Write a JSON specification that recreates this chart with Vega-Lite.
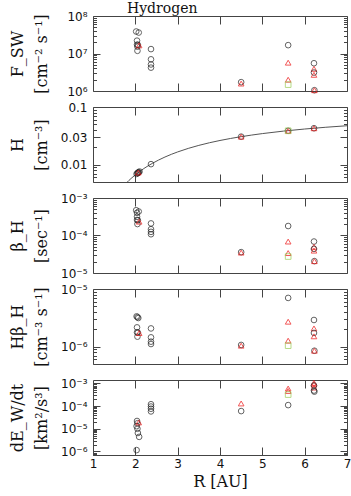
{
  "$schema": "https://vega.github.io/schema/vega-lite/v6.json",
  "padding": {"left": 8, "top": 1, "right": 0, "bottom": 0},
  "spacing": 16,
  "bounds": "flush",
  "config": {
    "view": {"stroke": "#444", "strokeWidth": 1},
    "axis": {"domain": false, "grid": false, "tickColor": "#444", "tickWidth": 1, "labelFont": "DejaVu Sans", "labelFontSize": 12, "labelColor": "#111", "titleFont": "DejaVu Serif", "titleFontSize": 16, "titleFontWeight": "normal", "titleColor": "#111", "labelFlush": false, "labelOverlap": false},
    "point": {"filled": false, "size": 32, "strokeWidth": 1}
  },
  "datasets": {
    "f": [
      {"R": 2.02, "v": 3.86e7, "t": "c"}, {"R": 2.08, "v": 3.62e7, "t": "c"}, {"R": 2.04, "v": 2.2e7, "t": "c"},
      {"R": 2.04, "v": 1.72e7, "t": "c"}, {"R": 2.06, "v": 1.7e7, "t": "c"}, {"R": 2.05, "v": 1.52e7, "t": "c"},
      {"R": 2.05, "v": 1.18e7, "t": "c"}, {"R": 2.09, "v": 1.65e7, "t": "t"},
      {"R": 2.37, "v": 1.31e7, "t": "c"}, {"R": 2.37, "v": 7.0e6, "t": "c"}, {"R": 2.37, "v": 5.1e6, "t": "c"}, {"R": 2.37, "v": 4.2e6, "t": "c"},
      {"R": 4.5, "v": 1.72e6, "t": "c"}, {"R": 4.5, "v": 1.58e6, "t": "t"},
      {"R": 5.61, "v": 1.67e7, "t": "c"}, {"R": 5.61, "v": 5.7e6, "t": "t"}, {"R": 5.61, "v": 2.0e6, "t": "t"}, {"R": 5.61, "v": 1.48e6, "t": "s"},
      {"R": 6.22, "v": 5.5e6, "t": "c"}, {"R": 6.22, "v": 3.9e6, "t": "t"}, {"R": 6.22, "v": 3.1e6, "t": "c"}, {"R": 6.22, "v": 2.7e6, "t": "t"},
      {"R": 6.23, "v": 1.05e6, "t": "c"}, {"R": 6.23, "v": 1.05e6, "t": "t"}
    ],
    "h": [
      {"R": 2.03, "v": 0.0069, "t": "c"}, {"R": 2.05, "v": 0.0071, "t": "c"}, {"R": 2.06, "v": 0.0072, "t": "c"},
      {"R": 2.07, "v": 0.0073, "t": "c"}, {"R": 2.08, "v": 0.0074, "t": "c"}, {"R": 2.1, "v": 0.0076, "t": "c"},
      {"R": 2.07, "v": 0.0073, "t": "t"},
      {"R": 2.37, "v": 0.0102, "t": "c"},
      {"R": 4.5, "v": 0.0306, "t": "c"}, {"R": 4.5, "v": 0.0306, "t": "t"},
      {"R": 5.61, "v": 0.0387, "t": "c"}, {"R": 5.61, "v": 0.0387, "t": "t"}, {"R": 5.61, "v": 0.0387, "t": "s"},
      {"R": 6.22, "v": 0.0428, "t": "c"}, {"R": 6.22, "v": 0.0428, "t": "t"}
    ],
    "cv": [
      {"R": 1.78, "v": 0.00474}, {"R": 1.85, "v": 0.00533}, {"R": 1.9, "v": 0.00576}, {"R": 2.0, "v": 0.00665},
      {"R": 2.1, "v": 0.00759}, {"R": 2.2, "v": 0.00855}, {"R": 2.4, "v": 0.01051}, {"R": 2.7, "v": 0.01356},
      {"R": 3.0, "v": 0.01662}, {"R": 3.5, "v": 0.02158}, {"R": 4.0, "v": 0.02626}, {"R": 4.5, "v": 0.03058},
      {"R": 5.0, "v": 0.03455}, {"R": 5.5, "v": 0.03819}, {"R": 6.0, "v": 0.04149}, {"R": 6.5, "v": 0.04452},
      {"R": 7.0, "v": 0.04729}
    ],
    "b": [
      {"R": 2.02, "v": 4.72e-4, "t": "c"}, {"R": 2.08, "v": 4.36e-4, "t": "c"}, {"R": 2.04, "v": 4.03e-4, "t": "c"},
      {"R": 2.04, "v": 3.16e-4, "t": "c"}, {"R": 2.04, "v": 2.6e-4, "t": "c"}, {"R": 2.06, "v": 2.55e-4, "t": "c"},
      {"R": 2.05, "v": 2.02e-4, "t": "c"}, {"R": 2.09, "v": 2.34e-4, "t": "t"},
      {"R": 2.37, "v": 2.1e-4, "t": "c"}, {"R": 2.37, "v": 1.47e-4, "t": "c"}, {"R": 2.37, "v": 1.25e-4, "t": "c"}, {"R": 2.37, "v": 1.08e-4, "t": "c"},
      {"R": 4.5, "v": 3.6e-5, "t": "c"}, {"R": 4.5, "v": 3.5e-5, "t": "t"},
      {"R": 5.61, "v": 1.79e-4, "t": "c"}, {"R": 5.61, "v": 6.9e-5, "t": "t"}, {"R": 5.61, "v": 3.4e-5, "t": "t"}, {"R": 5.61, "v": 2.75e-5, "t": "s"},
      {"R": 6.22, "v": 6.9e-5, "t": "c"}, {"R": 6.22, "v": 5.0e-5, "t": "t"}, {"R": 6.22, "v": 4.4e-5, "t": "c"}, {"R": 6.22, "v": 3.95e-5, "t": "t"},
      {"R": 6.23, "v": 2.07e-5, "t": "c"}, {"R": 6.23, "v": 2.07e-5, "t": "t"}
    ],
    "hb": [
      {"R": 2.03, "v": 3.35e-6, "t": "c"}, {"R": 2.07, "v": 3.14e-6, "t": "c"}, {"R": 2.05, "v": 3.25e-6, "t": "c"},
      {"R": 2.04, "v": 2.16e-6, "t": "c"}, {"R": 2.04, "v": 1.77e-6, "t": "c"}, {"R": 2.06, "v": 1.75e-6, "t": "c"},
      {"R": 2.05, "v": 1.49e-6, "t": "c"}, {"R": 2.09, "v": 1.72e-6, "t": "t"},
      {"R": 2.37, "v": 2.07e-6, "t": "c"}, {"R": 2.37, "v": 1.45e-6, "t": "c"}, {"R": 2.37, "v": 1.22e-6, "t": "c"}, {"R": 2.37, "v": 1.11e-6, "t": "c"},
      {"R": 4.5, "v": 1.07e-6, "t": "c"}, {"R": 4.5, "v": 1.04e-6, "t": "t"},
      {"R": 5.61, "v": 7.0e-6, "t": "c"}, {"R": 5.61, "v": 2.71e-6, "t": "t"}, {"R": 5.61, "v": 1.27e-6, "t": "t"}, {"R": 5.61, "v": 1.04e-6, "t": "s"},
      {"R": 6.22, "v": 2.9e-6, "t": "c"}, {"R": 6.22, "v": 2.07e-6, "t": "t"}, {"R": 6.22, "v": 1.73e-6, "t": "c"}, {"R": 6.22, "v": 1.51e-6, "t": "t"},
      {"R": 6.23, "v": 8.5e-7, "t": "c"}, {"R": 6.23, "v": 8.5e-7, "t": "t"}
    ],
    "de": [
      {"R": 2.04, "v": 2.2e-5, "t": "c"}, {"R": 2.05, "v": 1.75e-5, "t": "c"}, {"R": 2.03, "v": 1.3e-5, "t": "c"},
      {"R": 2.05, "v": 1.0e-5, "t": "c"}, {"R": 2.06, "v": 6.5e-6, "t": "c"}, {"R": 2.09, "v": 4.4e-6, "t": "c"},
      {"R": 2.03, "v": 1.15e-6, "t": "c"}, {"R": 2.08, "v": 1.9e-5, "t": "t"},
      {"R": 2.37, "v": 1.2e-4, "t": "c"}, {"R": 2.37, "v": 9.5e-5, "t": "c"}, {"R": 2.37, "v": 7.6e-5, "t": "c"}, {"R": 2.37, "v": 5.8e-5, "t": "c"},
      {"R": 4.5, "v": 1.3e-4, "t": "t"}, {"R": 4.5, "v": 6.0e-5, "t": "c"},
      {"R": 5.61, "v": 5.9e-4, "t": "t"}, {"R": 5.61, "v": 4.6e-4, "t": "t"}, {"R": 5.61, "v": 3.2e-4, "t": "s"}, {"R": 5.61, "v": 1.1e-4, "t": "c"},
      {"R": 6.22, "v": 1.05e-3, "t": "t"}, {"R": 6.22, "v": 9.0e-4, "t": "t"}, {"R": 6.22, "v": 8.0e-4, "t": "c"}, {"R": 6.22, "v": 6.5e-4, "t": "t"},
      {"R": 6.22, "v": 4.8e-4, "t": "c"}, {"R": 6.23, "v": 4.3e-4, "t": "c"}
    ]
  },
  "vconcat": [
    {
      "width": 254, "height": 75,
      "title": {"text": "Hydrogen", "anchor": "start", "frame": "group", "dx": 34, "offset": -6, "font": "DejaVu Serif", "fontSize": 14, "fontWeight": "normal", "color": "#111"},
      "data": {"name": "f"},
      "resolve": {"axis": {"x": "independent", "y": "independent"}},
      "layer": [
        {"mark": {"type": "point", "opacity": 0},
         "encoding": {
           "x": {"field": "R", "type": "quantitative", "scale": {"domain": [1, 7], "nice": false, "zero": false},
                 "axis": {"orient": "top", "values": [2, 3, 4, 5, 6], "labels": false, "title": null, "tickSize": -8}},
           "y": {"field": "v", "type": "quantitative", "scale": {"type": "log", "domain": [1e6, 1e8], "nice": false},
                 "axis": {"orient": "right", "values": [1e6, 2e6, 3e6, 4e6, 5e6, 6e6, 7e6, 8e6, 9e6, 1e7, 2e7, 3e7, 4e7, 5e7, 6e7, 7e7, 8e7, 9e7, 1e8], "labels": false, "title": null,
                          "tickSize": {"condition": {"test": "datum.value == 1e8 || datum.value == 1e7 || datum.value == 1e6", "value": -7}, "value": -3.5}}}}},
        {"mark": {"type": "point"},
         "encoding": {
           "x": {"field": "R", "type": "quantitative", "scale": {"domain": [1, 7], "nice": false, "zero": false},
                 "axis": {"orient": "bottom", "values": [2, 3, 4, 5, 6], "labels": false, "title": null, "tickSize": -8}},
           "y": {"field": "v", "type": "quantitative", "scale": {"type": "log", "domain": [1e6, 1e8], "nice": false},
                 "axis": {"orient": "left", "values": [1e6, 2e6, 3e6, 4e6, 5e6, 6e6, 7e6, 8e6, 9e6, 1e7, 2e7, 3e7, 4e7, 5e7, 6e7, 7e7, 8e7, 9e7, 1e8],
                          "tickSize": {"condition": {"test": "datum.value == 1e8 || datum.value == 1e7 || datum.value == 1e6", "value": -7}, "value": -3.5},
                          "labelPadding": 13,
                          "labelExpr": "datum.value == 1e8 ? '10⁸' : datum.value == 1e7 ? '10⁷' : datum.value == 1e6 ? '10⁶' : ''",
                          "title": ["F_SW", "[cm⁻² s⁻¹]"], "titleX": -76, "titleBaseline": "middle", "titleLineHeight": 24}},
           "shape": {"field": "t", "type": "nominal", "scale": {"domain": ["c", "t", "s"], "range": ["circle", "triangle-up", "square"]}, "legend": null},
           "color": {"field": "t", "type": "nominal", "scale": {"domain": ["c", "t", "s"], "range": ["#222222", "#ee1111", "#99cc55"]}, "legend": null}}}
      ]
    },
    {
      "width": 254, "height": 75,
      "resolve": {"axis": {"x": "independent", "y": "independent"}},
      "layer": [
        {"data": {"name": "h"},
         "mark": {"type": "point", "opacity": 0},
         "encoding": {
           "x": {"field": "R", "type": "quantitative", "scale": {"domain": [1, 7], "nice": false, "zero": false},
                 "axis": {"orient": "top", "values": [2, 3, 4, 5, 6], "labels": false, "title": null, "tickSize": -8}},
           "y": {"field": "v", "type": "quantitative", "scale": {"type": "log", "domain": [0.005, 0.1], "nice": false},
                 "axis": {"orient": "right", "values": [0.005, 0.006, 0.007, 0.008, 0.009, 0.01, 0.02, 0.03, 0.04, 0.05, 0.06, 0.07, 0.08, 0.09, 0.1], "labels": false, "title": null,
                          "tickSize": {"condition": {"test": "datum.value == 0.1 || datum.value == 0.03 || datum.value == 0.01", "value": -7}, "value": -3.5}}}}},
        {"data": {"name": "cv"},
         "mark": {"type": "line", "clip": true, "color": "#555", "strokeWidth": 1, "interpolate": "monotone"},
         "encoding": {
           "x": {"field": "R", "type": "quantitative", "scale": {"domain": [1, 7], "nice": false, "zero": false}, "axis": null},
           "y": {"field": "v", "type": "quantitative", "scale": {"type": "log", "domain": [0.005, 0.1], "nice": false}, "axis": null}}},
        {"data": {"name": "h"},
         "mark": {"type": "point"},
         "encoding": {
           "x": {"field": "R", "type": "quantitative", "scale": {"domain": [1, 7], "nice": false, "zero": false},
                 "axis": {"orient": "bottom", "values": [2, 3, 4, 5, 6], "labels": false, "title": null, "tickSize": -8}},
           "y": {"field": "v", "type": "quantitative", "scale": {"type": "log", "domain": [0.005, 0.1], "nice": false},
                 "axis": {"orient": "left", "values": [0.005, 0.006, 0.007, 0.008, 0.009, 0.01, 0.02, 0.03, 0.04, 0.05, 0.06, 0.07, 0.08, 0.09, 0.1],
                          "tickSize": {"condition": {"test": "datum.value == 0.1 || datum.value == 0.03 || datum.value == 0.01", "value": -7}, "value": -3.5},
                          "labelPadding": 13,
                          "labelExpr": "datum.value == 0.1 ? '0.1' : datum.value == 0.03 ? '0.03' : datum.value == 0.01 ? '0.01' : ''",
                          "title": ["H", "[cm⁻³]"], "titleX": -76, "titleBaseline": "middle", "titleLineHeight": 24}},
           "shape": {"field": "t", "type": "nominal", "scale": {"domain": ["c", "t", "s"], "range": ["circle", "triangle-up", "square"]}, "legend": null},
           "color": {"field": "t", "type": "nominal", "scale": {"domain": ["c", "t", "s"], "range": ["#222222", "#ee1111", "#99cc55"]}, "legend": null}}}
      ]
    },
    {
      "width": 254, "height": 75,
      "data": {"name": "b"},
      "resolve": {"axis": {"x": "independent", "y": "independent"}},
      "layer": [
        {"mark": {"type": "point", "opacity": 0},
         "encoding": {
           "x": {"field": "R", "type": "quantitative", "scale": {"domain": [1, 7], "nice": false, "zero": false},
                 "axis": {"orient": "top", "values": [2, 3, 4, 5, 6], "labels": false, "title": null, "tickSize": -8}},
           "y": {"field": "v", "type": "quantitative", "scale": {"type": "log", "domain": [1e-5, 1e-3], "nice": false},
                 "axis": {"orient": "right", "values": [1e-5, 2e-5, 3e-5, 4e-5, 5e-5, 6e-5, 7e-5, 8e-5, 9e-5, 1e-4, 2e-4, 3e-4, 4e-4, 5e-4, 6e-4, 7e-4, 8e-4, 9e-4, 1e-3], "labels": false, "title": null,
                          "tickSize": {"condition": {"test": "datum.value == 1e-3 || datum.value == 1e-4 || datum.value == 1e-5", "value": -7}, "value": -3.5}}}}},
        {"mark": {"type": "point"},
         "encoding": {
           "x": {"field": "R", "type": "quantitative", "scale": {"domain": [1, 7], "nice": false, "zero": false},
                 "axis": {"orient": "bottom", "values": [2, 3, 4, 5, 6], "labels": false, "title": null, "tickSize": -8}},
           "y": {"field": "v", "type": "quantitative", "scale": {"type": "log", "domain": [1e-5, 1e-3], "nice": false},
                 "axis": {"orient": "left", "values": [1e-5, 2e-5, 3e-5, 4e-5, 5e-5, 6e-5, 7e-5, 8e-5, 9e-5, 1e-4, 2e-4, 3e-4, 4e-4, 5e-4, 6e-4, 7e-4, 8e-4, 9e-4, 1e-3],
                          "tickSize": {"condition": {"test": "datum.value == 1e-3 || datum.value == 1e-4 || datum.value == 1e-5", "value": -7}, "value": -3.5},
                          "labelPadding": 13,
                          "labelExpr": "datum.value == 1e-3 ? '10⁻³' : datum.value == 1e-4 ? '10⁻⁴' : datum.value == 1e-5 ? '10⁻⁵' : ''",
                          "title": ["β_H", "[sec⁻¹]"], "titleX": -76, "titleBaseline": "middle", "titleLineHeight": 24}},
           "shape": {"field": "t", "type": "nominal", "scale": {"domain": ["c", "t", "s"], "range": ["circle", "triangle-up", "square"]}, "legend": null},
           "color": {"field": "t", "type": "nominal", "scale": {"domain": ["c", "t", "s"], "range": ["#222222", "#ee1111", "#99cc55"]}, "legend": null}}}
      ]
    },
    {
      "width": 254, "height": 75,
      "data": {"name": "hb"},
      "resolve": {"axis": {"x": "independent", "y": "independent"}},
      "layer": [
        {"mark": {"type": "point", "opacity": 0},
         "encoding": {
           "x": {"field": "R", "type": "quantitative", "scale": {"domain": [1, 7], "nice": false, "zero": false},
                 "axis": {"orient": "top", "values": [2, 3, 4, 5, 6], "labels": false, "title": null, "tickSize": -8}},
           "y": {"field": "v", "type": "quantitative", "scale": {"type": "log", "domain": [5e-7, 1e-5], "nice": false},
                 "axis": {"orient": "right", "values": [5e-7, 6e-7, 7e-7, 8e-7, 9e-7, 1e-6, 2e-6, 3e-6, 4e-6, 5e-6, 6e-6, 7e-6, 8e-6, 9e-6, 1e-5], "labels": false, "title": null,
                          "tickSize": {"condition": {"test": "datum.value == 1e-5 || datum.value == 1e-6", "value": -7}, "value": -3.5}}}}},
        {"mark": {"type": "point"},
         "encoding": {
           "x": {"field": "R", "type": "quantitative", "scale": {"domain": [1, 7], "nice": false, "zero": false},
                 "axis": {"orient": "bottom", "values": [2, 3, 4, 5, 6], "labels": false, "title": null, "tickSize": -8}},
           "y": {"field": "v", "type": "quantitative", "scale": {"type": "log", "domain": [5e-7, 1e-5], "nice": false},
                 "axis": {"orient": "left", "values": [5e-7, 6e-7, 7e-7, 8e-7, 9e-7, 1e-6, 2e-6, 3e-6, 4e-6, 5e-6, 6e-6, 7e-6, 8e-6, 9e-6, 1e-5],
                          "tickSize": {"condition": {"test": "datum.value == 1e-5 || datum.value == 1e-6", "value": -7}, "value": -3.5},
                          "labelPadding": 13,
                          "labelExpr": "datum.value == 1e-5 ? '10⁻⁵' : datum.value == 1e-6 ? '10⁻⁶' : ''",
                          "title": ["Hβ_H", "[cm⁻³ s⁻¹]"], "titleX": -76, "titleBaseline": "middle", "titleLineHeight": 24}},
           "shape": {"field": "t", "type": "nominal", "scale": {"domain": ["c", "t", "s"], "range": ["circle", "triangle-up", "square"]}, "legend": null},
           "color": {"field": "t", "type": "nominal", "scale": {"domain": ["c", "t", "s"], "range": ["#222222", "#ee1111", "#99cc55"]}, "legend": null}}}
      ]
    },
    {
      "width": 254, "height": 75,
      "data": {"name": "de"},
      "resolve": {"axis": {"x": "independent", "y": "independent"}},
      "layer": [
        {"mark": {"type": "point", "opacity": 0},
         "encoding": {
           "x": {"field": "R", "type": "quantitative", "scale": {"domain": [1, 7], "nice": false, "zero": false},
                 "axis": {"orient": "top", "values": [2, 3, 4, 5, 6], "labels": false, "title": null, "tickSize": -8}},
           "y": {"field": "v", "type": "quantitative", "scale": {"type": "log", "domain": [7e-7, 1.4e-3], "nice": false},
                 "axis": {"orient": "right", "values": [7e-7, 8e-7, 9e-7, 1e-6, 2e-6, 3e-6, 4e-6, 5e-6, 6e-6, 7e-6, 8e-6, 9e-6, 1e-5, 2e-5, 3e-5, 4e-5, 5e-5, 6e-5, 7e-5, 8e-5, 9e-5, 1e-4, 2e-4, 3e-4, 4e-4, 5e-4, 6e-4, 7e-4, 8e-4, 9e-4, 1e-3], "labels": false, "title": null,
                          "tickSize": {"condition": {"test": "datum.value == 1e-3 || datum.value == 1e-4 || datum.value == 1e-5 || datum.value == 1e-6", "value": -7}, "value": -3.5}}}}},
        {"mark": {"type": "point"},
         "encoding": {
           "x": {"field": "R", "type": "quantitative", "scale": {"domain": [1, 7], "nice": false, "zero": false},
                 "axis": {"orient": "bottom", "values": [1, 2, 3, 4, 5, 6, 7], "tickSize": -8, "labelPadding": 11,
                          "title": "R [AU]", "titlePadding": 4}},
           "y": {"field": "v", "type": "quantitative", "scale": {"type": "log", "domain": [7e-7, 1.4e-3], "nice": false},
                 "axis": {"orient": "left", "values": [7e-7, 8e-7, 9e-7, 1e-6, 2e-6, 3e-6, 4e-6, 5e-6, 6e-6, 7e-6, 8e-6, 9e-6, 1e-5, 2e-5, 3e-5, 4e-5, 5e-5, 6e-5, 7e-5, 8e-5, 9e-5, 1e-4, 2e-4, 3e-4, 4e-4, 5e-4, 6e-4, 7e-4, 8e-4, 9e-4, 1e-3],
                          "tickSize": {"condition": {"test": "datum.value == 1e-3 || datum.value == 1e-4 || datum.value == 1e-5 || datum.value == 1e-6", "value": -7}, "value": -3.5},
                          "labelPadding": 13,
                          "labelExpr": "datum.value == 1e-3 ? '10⁻³' : datum.value == 1e-4 ? '10⁻⁴' : datum.value == 1e-5 ? '10⁻⁵' : datum.value == 1e-6 ? '10⁻⁶' : ''",
                          "title": ["dE_W/dt", "[km²/s³]"], "titleX": -76, "titleBaseline": "middle", "titleLineHeight": 24}},
           "shape": {"field": "t", "type": "nominal", "scale": {"domain": ["c", "t", "s"], "range": ["circle", "triangle-up", "square"]}, "legend": null},
           "color": {"field": "t", "type": "nominal", "scale": {"domain": ["c", "t", "s"], "range": ["#222222", "#ee1111", "#99cc55"]}, "legend": null}}}
      ]
    }
  ]
}
